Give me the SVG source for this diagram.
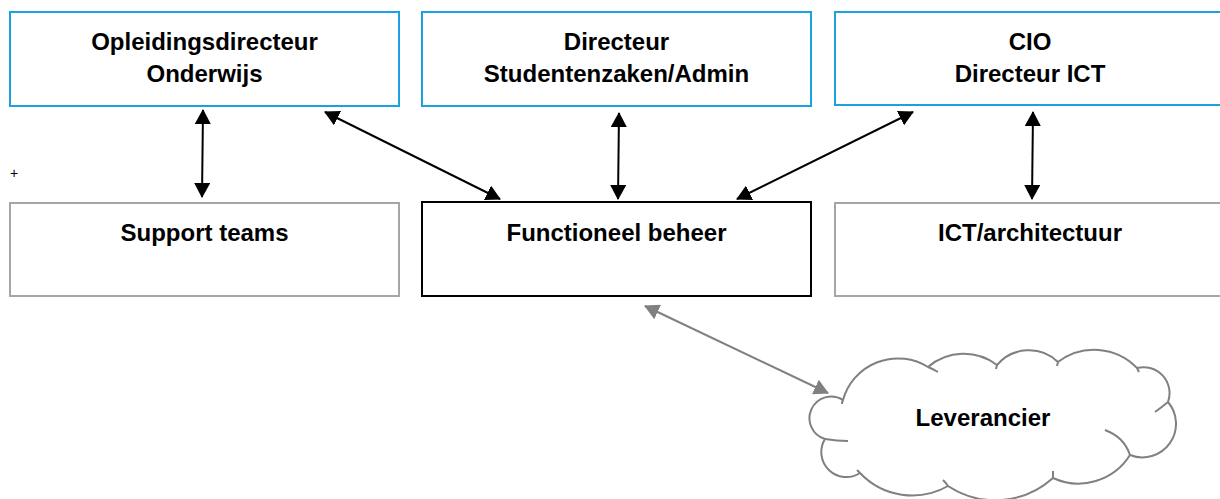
<svg xmlns="http://www.w3.org/2000/svg" width="1220" height="499" viewBox="0 0 1220 499">
<style>
.box{fill:#fff;stroke-width:2}
.blue{stroke:#1ba1e2}
.gray{stroke:#a6a6a6}
.black{stroke:#000}
.lbl{font-family:"Liberation Sans",Arial,sans-serif;font-weight:bold;font-size:24px;fill:#000;text-anchor:middle}
.conn{fill:none;stroke-width:2}
.cloud{fill:#fff;stroke:#808080;stroke-width:2;stroke-linejoin:round}
.cusp{fill:none;stroke:#808080;stroke-width:2}
</style>
<defs>
<marker id="ah" markerUnits="userSpaceOnUse" markerWidth="16" markerHeight="16" refX="14" refY="8" orient="auto-start-reverse"><path d="M0,0 L15,8 L0,16 z" fill="#000"/></marker>
<marker id="ahg" markerUnits="userSpaceOnUse" markerWidth="16" markerHeight="16" refX="14" refY="8" orient="auto-start-reverse"><path d="M0,0 L15,8 L0,16 z" fill="#808080"/></marker>
</defs>
<rect width="1220" height="499" fill="#fff"/>
<g id="opleidingsdirecteur">
<rect class="box blue" x="10" y="12" width="389" height="94"/>
<text class="lbl" x="204.5" y="50">Opleidingsdirecteur</text>
<text class="lbl" x="204.5" y="82">Onderwijs</text>
</g>
<g id="directeur-studentenzaken">
<rect class="box blue" x="422" y="12" width="389" height="94"/>
<text class="lbl" x="616.5" y="50">Directeur</text>
<text class="lbl" x="616.5" y="82">Studentenzaken/Admin</text>
</g>
<g id="cio">
<rect class="box blue" x="835" y="12" width="390" height="93"/>
<text class="lbl" x="1030" y="50">CIO</text>
<text class="lbl" x="1030" y="82">Directeur ICT</text>
</g>
<g id="support-teams">
<rect class="box gray" x="10" y="203" width="389" height="93"/>
<text class="lbl" x="204.5" y="241">Support teams</text>
</g>
<g id="functioneel-beheer">
<rect class="box black" x="422" y="202" width="389" height="94"/>
<text class="lbl" x="616.5" y="241">Functioneel beheer</text>
</g>
<g id="ict-architectuur">
<rect class="box gray" x="835" y="203" width="390" height="93"/>
<text class="lbl" x="1030" y="241">ICT/architectuur</text>
</g>
<g id="leverancier">
<path class="cloud" d="M843,400 A57,57 0 0 1 928,367 A55,55 0 0 1 997,365 A42,42 0 0 1 1058,362 A59.5,59.5 0 0 1 1137,368 A26,26 0 0 1 1168,402 A33.6,33.6 0 0 1 1130,455 A61,61 0 0 1 1053,478 A86,86 0 0 1 948,486 A72,72 0 0 1 860,473 A25,25 0 0 1 825,439 A21.7,21.7 0 1 1 843,400 Z"/>
<path class="cusp" d="M843,400 Q842,402 842,404 M928,367 Q933,369 938,372 M997,365 L996,369 M1058,362 L1057,366 M1137,368 L1139,372 M1168,402 Q1162,407 1155,412 M1105,430 Q1124,437 1130,455 M1053,471 L1053,478 M948,486 Q946,483 943,480 M860,473 L857,470 M825,439 Q837,441 848,441"/>
<text class="lbl" x="983" y="426">Leverancier</text>
</g>
<text x="10" y="178" font-family="Liberation Sans,Arial,sans-serif" font-size="14" fill="#000">+</text>
<g id="connectors">
<line class="conn" x1="203" y1="110" x2="202" y2="197" stroke="#000" marker-start="url(#ah)" marker-end="url(#ah)"/>
<line class="conn" x1="325" y1="112" x2="500" y2="199" stroke="#000" marker-start="url(#ah)" marker-end="url(#ah)"/>
<line class="conn" x1="619" y1="113" x2="618" y2="199" stroke="#000" marker-start="url(#ah)" marker-end="url(#ah)"/>
<line class="conn" x1="913" y1="112" x2="737" y2="199" stroke="#000" marker-start="url(#ah)" marker-end="url(#ah)"/>
<line class="conn" x1="1033" y1="112" x2="1032" y2="199" stroke="#000" marker-start="url(#ah)" marker-end="url(#ah)"/>
<line class="conn" x1="645" y1="306" x2="828" y2="393" stroke="#808080" marker-start="url(#ahg)" marker-end="url(#ahg)"/>
</g>
</svg>
